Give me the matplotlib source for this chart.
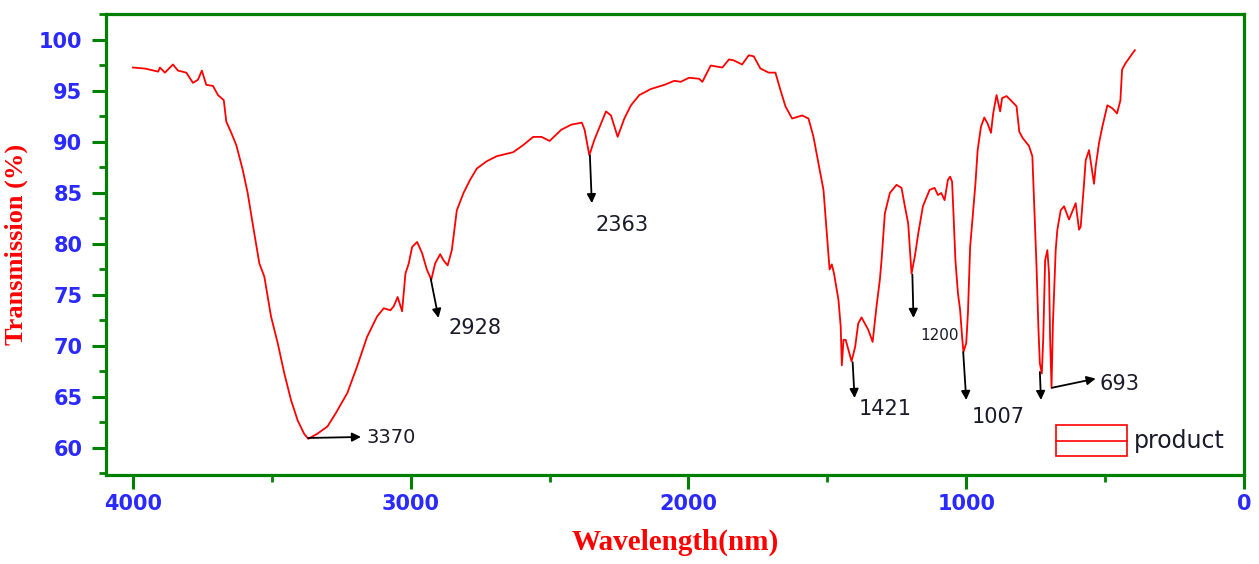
import matplotlib
matplotlib.use("Agg")
import matplotlib.pyplot as plt
from matplotlib.patches import Rectangle
from matplotlib.lines import Line2D
from matplotlib.ticker import MultipleLocator

# ---------------- data ----------------
wavenumber = [4000, 3957, 3909, 3903, 3885, 3856, 3838, 3808, 3784, 3766, 3752, 3736, 3712, 3694,
              3673, 3664, 3646, 3628, 3605, 3587, 3569, 3545, 3527, 3503, 3479, 3455, 3431, 3407,
              3384, 3369, 3336, 3300, 3270, 3228, 3193, 3157, 3121, 3097, 3073, 3061, 3047, 3031,
              3019, 3007, 2995, 2977, 2959, 2942, 2926, 2912, 2894, 2882, 2867, 2852, 2834, 2810,
              2786, 2762, 2727, 2691, 2631, 2595, 2559, 2529, 2500, 2458, 2422, 2384, 2374, 2357,
              2339, 2321, 2297, 2279, 2255, 2231, 2207, 2177, 2135, 2087, 2051, 2028, 1998, 1962,
              1950, 1920, 1878, 1854, 1837, 1807, 1783, 1765, 1741, 1711, 1687, 1669, 1651, 1627,
              1591, 1568, 1550, 1532, 1514, 1502, 1492, 1484, 1476, 1460, 1452, 1448, 1442, 1434,
              1424, 1413, 1400, 1389, 1377, 1353, 1337, 1323, 1311, 1305, 1293, 1275, 1251, 1233,
              1221, 1209, 1197, 1185, 1173, 1156, 1132, 1114, 1102, 1090, 1078, 1066, 1058, 1051,
              1046, 1039, 1030, 1022, 1015, 1010, 1000, 994, 986, 976, 967, 959, 947, 935, 923,
              911, 903, 891, 878, 871, 855, 833, 819, 809, 797, 774, 762, 756, 747, 740, 735, 728,
              723, 716, 708, 702, 698, 693, 688, 678, 672, 660, 648, 630, 606, 594, 588, 576, 570,
              558, 540, 534, 522, 510, 492, 474, 457, 445, 439, 427, 409, 393]
transmission = [97.3, 97.2, 96.9, 97.3, 96.8, 97.6, 97.0, 96.8, 95.8, 96.1, 97.0, 95.6, 95.5, 94.6,
                94.1, 92.0, 90.9, 89.7, 87.3, 85.0, 82.0, 78.1, 76.8, 72.9, 70.3, 67.3, 64.7, 62.7,
                61.4, 60.9, 61.4, 62.1, 63.4, 65.4, 68.0, 70.9, 72.9, 73.7, 73.5, 73.9, 74.8, 73.4,
                77.1, 78.1, 79.7, 80.2, 79.1, 77.5, 76.5, 78.1, 79.0, 78.4, 77.9, 79.4, 83.3, 85.0,
                86.3, 87.4, 88.1, 88.6, 89.0, 89.7, 90.5, 90.5, 90.1, 91.2, 91.7, 91.9, 91.2, 88.7,
                90.2, 91.4, 93.0, 92.6, 90.5, 92.3, 93.6, 94.6, 95.2, 95.6, 96.0, 95.9, 96.3, 96.2,
                95.9, 97.5, 97.3, 98.1, 98.0, 97.6, 98.5, 98.4, 97.2, 96.8, 96.8, 95.1, 93.5, 92.3,
                92.6, 92.3, 90.5, 87.9, 85.3, 81.0, 77.5, 78.0, 77.1, 74.5, 71.9, 68.1, 70.6, 70.6,
                69.6, 68.5, 69.9, 72.2, 72.8, 71.6, 70.4, 73.9, 76.5, 78.4, 83.0, 85.0, 85.8, 85.5,
                83.7, 82.0, 77.1, 78.8, 81.0, 83.7, 85.3, 85.5, 84.8, 85.0, 84.3, 86.3, 86.6, 86.1,
                83.0, 78.4, 75.2, 73.5, 70.9, 69.4, 70.3, 73.2, 79.7, 83.0, 85.9, 89.2, 91.5, 92.4, 91.8,
                90.9, 92.8, 94.6, 93.0, 94.3, 94.5, 93.9, 93.5, 91.0, 90.4, 89.6, 88.6, 84.3, 77.8, 71.6, 68.3, 67.3,
                70.6, 78.4, 79.4, 77.1, 70.6, 65.9, 72.2, 79.4, 81.4, 83.3, 83.7, 82.4, 84.0, 81.4, 81.7, 85.9, 88.2,
                89.2, 85.9, 87.6, 89.9, 91.5, 93.6, 93.3, 92.8, 94.1, 97.1, 97.7, 98.4, 99.0]

# peak annotations: label, arrow tail (x, y), arrow head (x, y), label anchor (x, y), font size
peak_labels = ["3370", "2928", "2363", "1421", "1200", "1007", "", "693"]
arrow_tail = [(3369, 60.98), (2928, 76.6), (2355, 88.7), (1409, 68.4), (1194, 77.0), (1011, 69.4), (735, 67.45), (692, 65.9)]
arrow_head = [(3179, 61.08), (2900, 72.75), (2348, 84.0), (1402, 64.9), (1190, 72.75), (1000, 64.7), (731, 64.7), (534, 66.8)]
label_pos = [(3158, 61.0), (2864, 71.8), (2333, 81.9), (1387, 63.8), (1165, 71.0), (979, 63.0), (0, 0), (520, 66.3)]
label_size = [14, 15, 15, 15, 11, 15, 15, 15]

series_name = "product"
x_ticks = [4000, 3000, 2000, 1000, 0]
y_ticks = [60, 65, 70, 75, 80, 85, 90, 95, 100]

# ---------------- figure ----------------
GREEN = "#008000"
BLUE = "#2a2aff"
RED = "#ff0000"

fig = plt.figure(figsize=(12.59, 5.64), dpi=100)
ax = fig.add_axes([0.0842, 0.1578, 0.9039, 0.8174])

ax.plot(wavenumber, transmission, color=RED, lw=1.3)

ax.set_xlim(4097, 18)
ax.set_ylim(57.35, 102.55)
ax.set_xticks(x_ticks)
ax.set_yticks(y_ticks)
ax.xaxis.set_minor_locator(MultipleLocator(500))
ax.yaxis.set_minor_locator(MultipleLocator(2.5))

for s in ax.spines.values():
    s.set_color(GREEN)
    s.set_linewidth(2.3)

ax.tick_params(which="both", direction="out", color=GREEN, top=False, right=False)
ax.tick_params(which="major", length=10, width=2.2, pad=4)
ax.tick_params(which="minor", length=5, width=2.0)
ax.tick_params(axis="y", which="major", pad=7)
for lab in ax.get_xticklabels() + ax.get_yticklabels():
    lab.set_color(BLUE)
    lab.set_fontweight("bold")
    lab.set_fontsize(15)
    lab.set_family("DejaVu Sans")

ax.set_xlabel("Wavelength(nm)", color=RED, fontsize=21, fontweight="bold",
              family="Liberation Serif", labelpad=10)
ax.set_ylabel("Transmission (%)", color=RED, fontsize=19, fontweight="bold",
              family="Liberation Serif", labelpad=8)

# peak arrows and labels
for lab, t, h, p, fs in zip(peak_labels, arrow_tail, arrow_head, label_pos, label_size):
    ax.annotate("", xy=h, xytext=t,
                arrowprops=dict(arrowstyle="-|>", color="black", lw=1.3, mutation_scale=13,
                                shrinkA=0, shrinkB=0))
    if lab:
        ax.text(p[0], p[1], lab, fontsize=fs, color="#1a1a2a", ha="left", va="center",
                family="DejaVu Sans")

# legend box (Origin style)
ax.add_patch(Rectangle((0.835, 0.041), 0.062, 0.067, transform=ax.transAxes,
                       fill=False, edgecolor=RED, lw=1.2))
ax.add_line(Line2D([0.835, 0.897], [0.0745, 0.0745], transform=ax.transAxes, color=RED, lw=1.2))
ax.text(0.903, 0.0745, series_name, transform=ax.transAxes, fontsize=17, color="#1a1a2a",
        ha="left", va="center", family="DejaVu Sans")

fig.savefig("out.png", dpi=100)
